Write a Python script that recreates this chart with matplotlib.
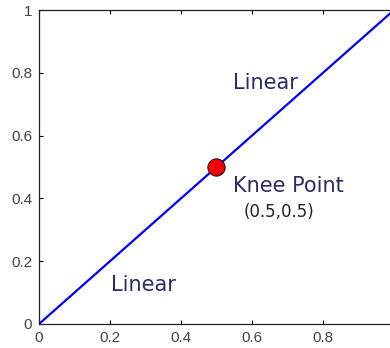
import matplotlib
matplotlib.use('Agg')
import matplotlib.pyplot as plt

x = [0, 0.5, 1]
y = [0, 0.5, 1]
knee = (0.5, 0.5)
xticks = [0, 0.2, 0.4, 0.6, 0.8]
yticks = [0, 0.2, 0.4, 0.6, 0.8, 1]

fig = plt.figure(figsize=(3.9, 3.48), dpi=100)
ax = fig.add_axes([0.1, 0.069, 0.91, 0.902])

ax.plot(x, y, color='#0000ff', linewidth=1.6)
ax.plot([knee[0]], [knee[1]], 'o', color='#ee0000', markeredgecolor='black',
        markeredgewidth=0.6, markersize=12.5)

txtc = '#2b2b6b'
ax.text(0.203, 0.106, 'Linear', color=txtc, fontsize=15)
ax.text(0.546, 0.748, 'Linear', color=txtc, fontsize=15)
ax.text(0.546, 0.421, 'Knee Point', color=txtc, fontsize=15)
ax.text(0.576, 0.34, '(0.5,0.5)', color='#222222', fontsize=12)

ax.set_xlim(0, 1)
ax.set_ylim(0, 1)
ax.set_xticks(xticks)
ax.set_xticklabels(['0', '0.2', '0.4', '0.6', '0.8'], family='Liberation Sans')
ax.set_yticks(yticks)
ax.set_yticklabels(['0', '0.2', '0.4', '0.6', '0.8', '1'], family='Liberation Sans')
ax.tick_params(direction='in', length=3, labelsize=11, labelcolor='#444444',
               top=True, right=True, pad=5)
for s in ax.spines.values():
    s.set_linewidth(0.9)
    s.set_color('#222222')

fig.savefig('out.png', dpi=100)
